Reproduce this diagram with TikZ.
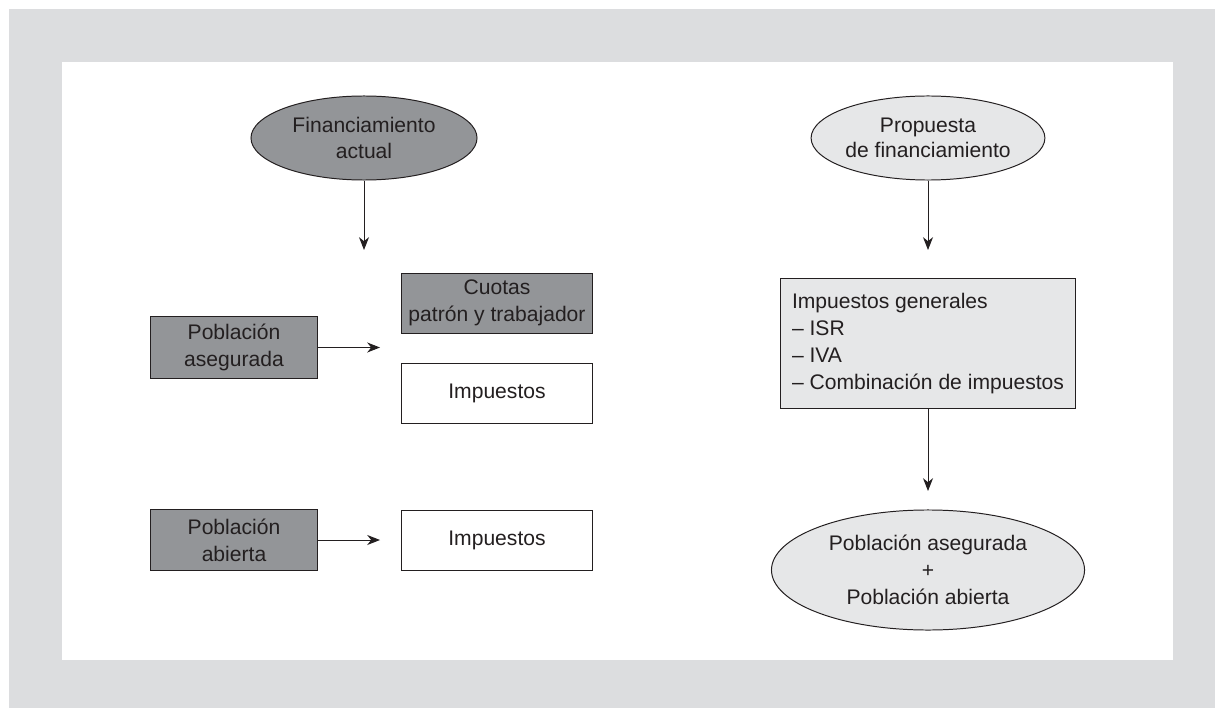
\documentclass[tikz,border=0pt]{standalone}
\usepackage{fontspec}
\setmainfont{Liberation Sans}
\usetikzlibrary{shapes.geometric,arrows.meta}
\definecolor{frame gray}{RGB}{220,221,223}
\definecolor{dark fill}{RGB}{147,149,152}
\definecolor{light fill}{RGB}{230,231,232}
\definecolor{ink}{RGB}{35,31,32}

\tikzset{
	every box/.style={draw=ink, line width=0.7pt, text=ink, align=center, inner sep=0pt,
		font=\fontsize{15}{19}\selectfont},
	small box/.style={every box, minimum width=4.15cm, minimum height=1.53cm},
	wide box/.style={every box, minimum width=4.75cm, minimum height=1.5cm},
	oval/.style={every box, ellipse},
}

\begin{document}
\begin{tikzpicture}[x=0.025cm, y=-0.025cm, >={Stealth[length=3.2mm,width=2.5mm,inset=1mm]}, line width=0.7pt]
		
		\useasboundingbox (0,0) rectangle (1215,708);
		\fill [frame gray] (9,9) rectangle (1215,708);
		\fill [white] (62,62) rectangle (1173,660);
		
		% financiamiento actual
		\node [oval, fill=dark fill, minimum width=5.65cm, minimum height=2.1cm,
			font=\fontsize{15}{18}\selectfont] (actual) at (364,138) {Financiamiento\\actual};
		\coordinate (actual-end) at (364,250);
		\draw [->, ink] (actual) -- (actual-end);
		
		\node [wide box, fill=dark fill] (cuotas) at (497,303) {Cuotas\\patrón y trabajador};
		\node [wide box, fill=white] (impuestos-1) at (497,393) {Impuestos};
		\node [wide box, fill=white] (impuestos-2) at (497,540) {Impuestos};
		
		\foreach \m/\l/\y in {asegurada/{Población\\asegurada}/347.5, abierta/{Población\\abierta}/540}
		\node [small box, fill=dark fill] (poblacion-\m) at (234,\y) {\l};
		
		\foreach \m/\y in {asegurada/347.5, abierta/540}
		{
			\coordinate (\m-end) at (380,\y);
			\draw [->, ink] (poblacion-\m) -- (\m-end);
		}
		
		% propuesta
		\node [oval, fill=light fill, minimum width=5.65cm, minimum height=2.1cm,
			font=\fontsize{15}{18}\selectfont] (propuesta) at (928,138) {Propuesta\\de financiamiento};
		\coordinate (propuesta-end) at (928,250);
		\draw [->, ink] (propuesta) -- (propuesta-end);
		
		\node [every box, fill=light fill, minimum width=7.375cm, minimum height=3.225cm,
			align=left] (generales) at (928,343.5)
			{Impuestos generales\\– ISR\\– IVA\\– Combinación de impuestos};
		\coordinate (generales-end) at (928,491);
		\draw [->, ink] (generales) -- (generales-end);
		
		\node [oval, fill=light fill, minimum width=7.825cm, minimum height=3cm] (total) at (928,570)
			{Población asegurada\\+\\Población abierta};

\end{tikzpicture}
\end{document}
